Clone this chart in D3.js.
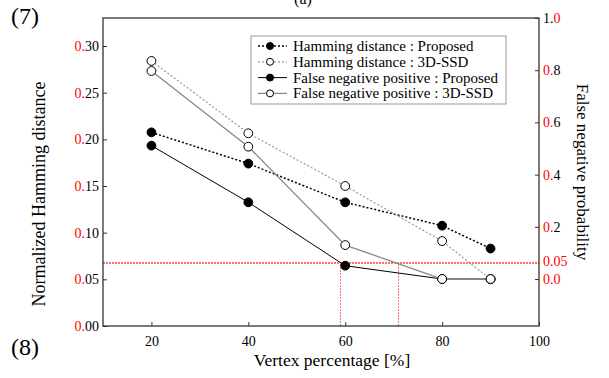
<!DOCTYPE html>
<html>
<head>
<meta charset="utf-8">
<script src="https://cdn.jsdelivr.net/npm/d3@7"></script>
<style>
  body { margin: 0; background: #fff; }
  svg { font-family: "Liberation Serif", "Times New Roman", serif; }
</style>
</head>
<body>
<div id="chart"></div>
<script>
// data
var vertexPct = [20, 40, 60, 80, 90];
var hdProposed = [0.2075, 0.174, 0.1325, 0.1075, 0.083];
var hd3dssd = [0.284, 0.2065, 0.150, 0.091, 0.050];
var fnProposed = [0.511, 0.294, 0.051, 0.0, 0.0];
var fn3dssd = [0.797, 0.507, 0.130, 0.0, 0.0];

var xTicks = [20, 40, 60, 80, 100];
var leftTicks = [0, 0.05, 0.10, 0.15, 0.20, 0.25, 0.30];
var rightTicks = [0, 0.2, 0.4, 0.6, 0.8, 1.0];
var threshold = 0.062;           // red dotted horizontal line, labelled 0.05
var thresholdX = [59, 70.9];     // red dotted vertical lines

var legendNames = ["Hamming distance : Proposed", "Hamming distance : 3D-SSD",
                   "False negative positive : Proposed", "False negative positive : 3D-SSD"];

var W = 609, H = 378;
var pLeft = 103, pRight = 539, pTop = 18, pBottom = 326;

var svg = d3.select("#chart").append("svg")
    .attr("width", W).attr("height", H);

var x = d3.scaleLinear().domain([10, 100]).range([pLeft, pRight]);
var yL = d3.scaleLinear().domain([0, 0.33]).range([pBottom, pTop]);
var yR = d3.scaleLinear().domain([-0.18, 1.0]).range([pBottom, pTop]);

// series definitions
var series = [
  {name: legendNames[0], vals: hdProposed, scale: yL, color: "#000", dash: "2,2", width: 1.5, fill: "#000"},
  {name: legendNames[1], vals: hd3dssd, scale: yL, color: "#999", dash: "2,2", width: 1.2, fill: "#fff"},
  {name: legendNames[2], vals: fnProposed, scale: yR, color: "#000", dash: null, width: 1, fill: "#000"},
  {name: legendNames[3], vals: fn3dssd, scale: yR, color: "#888", dash: null, width: 1.3, fill: "#fff"}
];

// red dotted guides
var gy = Math.round(yR(threshold));
var guideColor = "#ff4040";
svg.append("path")
    .attr("d", "M" + pLeft + "," + gy + "H" + pRight)
    .attr("fill", "none")
    .attr("stroke", guideColor).attr("stroke-width", 1.4).attr("stroke-dasharray", "2,1");
svg.selectAll(".vguide")
    .data(thresholdX)
    .enter().append("line")
    .attr("class", "vguide")
    .attr("x1", function(d) { return Math.round(x(d)) + 0.5; })
    .attr("x2", function(d) { return Math.round(x(d)) + 0.5; })
    .attr("y1", pBottom).attr("y2", gy)
    .attr("stroke", guideColor).attr("stroke-width", 1).attr("stroke-dasharray", "2,1")
    .attr("stroke-opacity", 0.75);

// axes
var axisColor = "#333";
var gx = svg.append("g")
    .attr("transform", "translate(0," + pBottom + ")")
    .call(d3.axisBottom(x).tickValues(xTicks).tickSizeInner(-4).tickSizeOuter(0).tickPadding(10));
var gl = svg.append("g")
    .attr("transform", "translate(" + pLeft + ",0)")
    .call(d3.axisLeft(yL).tickValues(leftTicks).tickSizeInner(-4).tickSizeOuter(0).tickPadding(4)
          .tickFormat(d3.format(".2f")));
var gr = svg.append("g")
    .attr("transform", "translate(" + pRight + ",0)")
    .call(d3.axisRight(yR).tickValues(rightTicks).tickSizeInner(-4).tickSizeOuter(0).tickPadding(4)
          .tickFormat(d3.format(".1f")));

[gx, gl, gr].forEach(function(g) {
  g.attr("font-family", null);
  g.select(".domain").remove();
  g.selectAll("line").attr("stroke", axisColor);
  g.selectAll("text").attr("font-size", 14).attr("fill", "#000");
});

// frame
svg.append("rect")
    .attr("x", pLeft).attr("y", pTop)
    .attr("width", pRight - pLeft).attr("height", pBottom - pTop)
    .attr("fill", "none").attr("stroke", axisColor).attr("stroke-width", 1.3);

// colour parts of the tick labels red
gl.selectAll(".tick text").each(function(d) {
  var t = d3.select(this), s = d3.format(".2f")(d);
  t.text(null);
  t.append("tspan").attr("fill", "red").text(s.slice(0, 2));
  t.append("tspan").attr("fill", "#000").text(s.slice(2));
});
gr.selectAll(".tick text").each(function(d) {
  var t = d3.select(this), s = d3.format(".1f")(d);
  t.text(null);
  if (d === 1) {
    t.append("tspan").attr("fill", "#000").text(s.slice(0, 2));
    t.append("tspan").attr("fill", "red").text(s.slice(2));
  } else if (d === 0) {
    t.append("tspan").attr("fill", "red").text(s);
  } else {
    t.append("tspan").attr("fill", "red").text(s.slice(0, 2));
    t.append("tspan").attr("fill", "#000").text(s.slice(2));
  }
});
svg.append("text")
    .attr("x", pRight + 4).attr("y", gy - 1).attr("dy", "0.32em")
    .attr("font-size", 14).attr("fill", "red")
    .text("0.05");

// lines and markers
var line = d3.line();
series.forEach(function(s) {
  var pts = vertexPct.map(function(v, i) { return [x(v), s.scale(s.vals[i])]; });
  svg.append("path")
      .attr("d", line(pts))
      .attr("fill", "none")
      .attr("stroke", s.color)
      .attr("stroke-width", s.width)
      .attr("stroke-dasharray", s.dash);
  svg.selectAll(null)
      .data(pts)
      .enter().append("circle")
      .attr("cx", function(d) { return d[0]; })
      .attr("cy", function(d) { return d[1]; })
      .attr("r", 4.4)
      .attr("fill", s.fill)
      .attr("stroke", "#000")
      .attr("stroke-width", 1);
});

// legend
var lg = svg.append("g");
lg.append("rect")
    .attr("x", 251).attr("y", 36).attr("width", 255).attr("height", 68)
    .attr("fill", "#fff").attr("stroke", "#999").attr("stroke-width", 1);
series.forEach(function(s, i) {
  var yy = 46 + i * 15.8;
  lg.append("line")
      .attr("x1", 258).attr("x2", 287).attr("y1", yy).attr("y2", yy)
      .attr("stroke", s.color).attr("stroke-width", s.width).attr("stroke-dasharray", s.dash);
  lg.append("circle")
      .attr("cx", 270).attr("cy", yy).attr("r", 3.5)
      .attr("fill", s.fill).attr("stroke", "#000").attr("stroke-width", 1);
  lg.append("text")
      .attr("x", 293).attr("y", yy).attr("dy", "0.33em")
      .attr("font-size", 15).attr("fill", "#000")
      .text(s.name);
});

// titles
svg.append("text")
    .attr("x", 332).attr("y", 366)
    .attr("text-anchor", "middle").attr("font-size", 17.5)
    .text("Vertex percentage [%]");
svg.append("text")
    .attr("transform", "translate(45,194) rotate(-90)")
    .attr("text-anchor", "middle").attr("font-size", 18)
    .text("Normalized Hamming distance");
svg.append("text")
    .attr("transform", "translate(577,172) rotate(90)")
    .attr("text-anchor", "middle").attr("font-size", 17)
    .text("False negative probability");

// panel numbers
svg.append("text").attr("x", 11).attr("y", 24).attr("font-size", 24).text("(7)");
svg.append("text").attr("x", 11).attr("y", 355).attr("font-size", 24).text("(8)");
svg.append("text").attr("x", 303).attr("y", 4).attr("text-anchor", "middle").attr("font-size", 16).text("(a)");
</script>
</body>
</html>
